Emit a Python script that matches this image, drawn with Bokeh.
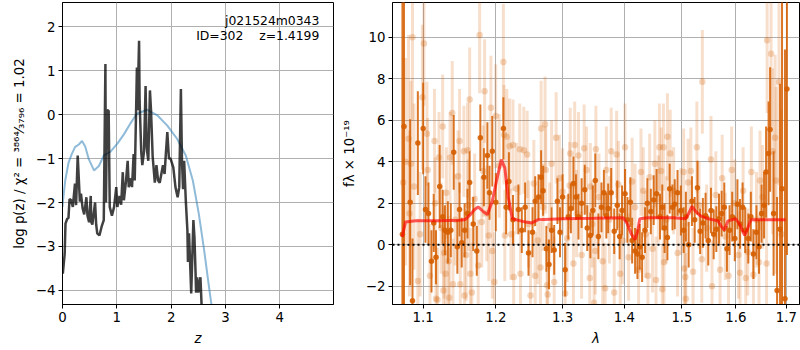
from bokeh.plotting import figure
from bokeh.layouts import row
from bokeh.models import Label, FixedTicker, PrintfTickFormatter, Span
from bokeh.embed import file_html
from bokeh.resources import INLINE

# ---------------- left panel: log p(z) ----------------
z_pz = [0.006, 0.04, 0.055, 0.087, 0.11, 0.13, 0.16, 0.19, 0.23, 0.25, 0.28, 0.32, 0.34, 0.37, 0.40,
        0.44, 0.46, 0.49, 0.52, 0.53, 0.55, 0.60, 0.62, 0.64, 0.68, 0.72, 0.76, 0.79, 0.80, 0.82,
        0.85, 0.87, 0.91, 0.95, 0.99, 1.01, 1.05, 1.08, 1.11, 1.13, 1.17, 1.20, 1.22, 1.26, 1.28,
        1.31, 1.33, 1.36, 1.37, 1.38, 1.41, 1.42, 1.45, 1.47, 1.50, 1.53, 1.55, 1.58, 1.61, 1.63,
        1.66, 1.70, 1.73, 1.76, 1.79, 1.82, 1.85, 1.88, 1.90, 1.93, 1.96, 1.99, 2.04, 2.08, 2.12,
        2.15, 2.18, 2.20, 2.22, 2.24, 2.27, 2.30, 2.31, 2.33, 2.37, 2.41, 2.43, 2.45, 2.46, 2.48,
        2.50, 2.54, 2.56, 2.62]
logp = [-3.62, -3.17, -2.48, -2.37, -2.35, -1.92, -1.95, -2.1, -1.57, -2.06, -0.93, -1.98, -1.8, -2.13, -2.27,
        -1.88, -2.3, -2.45, -1.85, -2.45, -2.5, -2.0, -2.5, -2.7, -2.75, -2.55, -2.4, 1.15, -2.0, 0.1,
        0.09, -2.1, -2.3, -2.1, -1.65, -2.1, -1.85, -2.05, -1.31, -1.95, -1.5, -1.05, -1.65, -1.45, -1.65,
        -0.9, -1.5, 0.4, 1.07, 0.1, 1.68, 0.3, -0.85, -1.15, -0.85, 0.65, -0.75, -1.05, 0.55, 0.1,
        -0.95, -1.55, -1.15, -1.5, -1.55, -1.35, -1.15, -1.35, -0.95, -0.4, -1.0, -1.0, -1.2, -1.65, -1.88,
        -1.65, 0.58, -1.05, -1.7, -1.05, -1.95, -2.64, -3.35, -2.7, -4.07, -2.4, -2.8, -3.6, -4.05, -3.7,
        -4.05, -3.7, -4.3, -5.2]

z_prior = [0.0, 0.01, 0.05, 0.11, 0.17, 0.23, 0.30, 0.36, 0.42, 0.48, 0.58, 0.67, 0.76, 0.88, 1.01,
           1.13, 1.25, 1.37, 1.56, 1.74, 1.93, 2.11, 2.27, 2.40, 2.51, 2.61, 2.69, 2.74, 2.80]
logp_prior = [-2.1, -1.95, -1.5, -1.1, -0.9, -0.74, -0.68, -0.6, -0.73, -1.0, -1.27, -1.17, -0.93, -0.85, -0.66,
              -0.45, -0.2, 0.02, 0.11, -0.01, -0.25, -0.55, -0.93, -1.5, -2.26, -3.1, -3.85, -4.3, -5.0]

z_ticks = [0, 1, 2, 3, 4]
logp_ticks = [-4, -3, -2, -1, 0, 1, 2]

# ---------------- right panel: spectrum ----------------
lam_dark = [1.073, 1.075, 1.083, 1.086, 1.093, 1.100, 1.103, 1.107, 1.111, 1.114, 1.117, 1.122, 1.126, 1.129,
            1.133, 1.137, 1.141, 1.146, 1.149, 1.152, 1.156, 1.160, 1.163, 1.168, 1.173, 1.178, 1.183, 1.188,
            1.191, 1.195, 1.200, 1.211, 1.215, 1.219, 1.225, 1.233, 1.238, 1.243,
            1.248, 1.254, 1.258, 1.263, 1.267, 1.270, 1.275, 1.279, 1.283, 1.287, 1.292, 1.296, 1.300, 1.304,
            1.309, 1.313, 1.317, 1.321, 1.325, 1.330, 1.335, 1.339, 1.344, 1.348, 1.352, 1.357, 1.362, 1.366,
            1.370, 1.373, 1.378, 1.383, 1.388, 1.392, 1.396, 1.401, 1.405, 1.410, 1.413, 1.418, 1.422, 1.426,
            1.430, 1.435, 1.439, 1.445, 1.450, 1.455, 1.461,
            1.465, 1.469, 1.474, 1.478, 1.483, 1.487, 1.492, 1.498, 1.503, 1.507, 1.512, 1.518, 1.523, 1.528,
            1.533, 1.538, 1.543, 1.548, 1.553, 1.558, 1.563, 1.568, 1.573, 1.578, 1.583, 1.588, 1.593, 1.598,
            1.603, 1.608, 1.613, 1.618, 1.624, 1.629, 1.634, 1.640, 1.645, 1.650, 1.655, 1.659, 1.664, 1.667,
            1.674, 1.681, 1.687, 1.691, 1.697, 1.701]
flux_dark = [0.5, 5.7, 2.05, -2.7, 4.9, 5.6, 1.7, 1.5, -0.8, 1.05, -0.6, 2.8, 1.35, 0.7,
             0.6, 0.7, 4.45, -0.1, 1.7, 0.1, 0.7, 1.5, 3.0, 1.0, -0.3, 5.15, 3.25, 4.3,
             2.5, 4.5, 2.05, 5.6, 1.8, 3.05, 1.2, 1.7, 0.7, 1.8,
             -0.4, 0.6, 2.1, 2.3, 3.25, 2.6, -0.2, -0.95, 0.7, -0.25, 2.1, 0.6, 2.3, -1.2,
             1.35, 1.75, 2.95, 2.3, 1.35, 2.0, 2.65, 0.8, 0.45, 1.65, 3.1, 0.4, 1.8, 2.5,
             1.4, 1.75, 2.5, 0.65, 1.9, 0.4, 1.65, 2.45, 1.2, 2.05, 0.2, -0.3, -0.45, -0.1,
             -0.6, 0.7, 2.0, 1.6, 2.15, 2.45, 1.35,
             1.8, 0.8, 0.35, 2.7, 1.8, 1.95, 2.5, 1.65, 0.7, 1.35, 0.0, 2.1, 1.2, 2.75,
             0.65, 1.05, 1.4, 0.2, 1.65, 0.5, 0.75, 1.25, 1.5, 1.8, -0.2, 0.7, 1.35, 0.3,
             1.95, 1.0, 1.8, 0.7, 0.3, 1.35, -0.45, 0.6, -0.1, 1.5, 1.9, 3.5, 4.4, 5.55,
             1.5, -2.2, 0.75, 2.7, -2.6, 7.5]
err_dark = [12.0, 12.0, 4.0, 3.0, 2.5, 2.2, 1.6, 1.5, 1.5, 1.4, 1.3, 2.0, 1.3, 1.2,
            1.5, 1.3, 1.8, 1.3, 1.3, 1.2, 1.3, 1.2, 1.5, 1.3, 1.2, 1.6, 1.4, 1.6,
            1.3, 1.7, 1.4, 1.5, 1.3, 1.4, 1.2, 1.2, 1.1, 1.2,
            1.1, 1.2, 1.2, 1.1, 1.3, 1.2, 1.1, 1.2, 1.1, 1.2, 1.1, 1.2, 1.1, 1.3,
            1.1, 1.2, 1.3, 1.1, 1.1, 1.2, 1.2, 1.1, 1.1, 1.2, 1.3, 1.1, 1.2, 1.1,
            1.1, 1.2, 1.2, 1.1, 1.2, 1.1, 1.2, 1.2, 1.1, 1.2, 1.1, 1.1, 1.2, 1.1,
            1.2, 1.1, 1.2, 1.1, 1.2, 1.2, 1.1,
            1.1, 1.2, 1.1, 1.2, 1.1, 1.2, 1.1, 1.2, 1.1, 1.2, 1.1, 1.2, 1.1, 1.3,
            1.1, 1.2, 1.1, 1.2, 1.1, 1.2, 1.1, 1.2, 1.1, 1.2, 1.1, 1.2, 1.2, 1.1,
            1.2, 1.2, 1.2, 1.1, 1.2, 1.2, 1.2, 1.3, 1.3, 1.4, 1.6, 2.2, 2.5, 3.0,
            3.0, 4.5, 7.0, 12.0, 12.0, 8.0]

lam_light = [1.074, 1.077, 1.081, 1.082, 1.084, 1.086, 1.093, 1.099, 1.101, 1.105, 1.106, 1.115, 1.116, 1.117,
             1.119, 1.121, 1.126, 1.128, 1.127, 1.130, 1.134, 1.135, 1.136, 1.139, 1.140, 1.149, 1.150, 1.155,
             1.156, 1.160, 1.161, 1.163, 1.164, 1.166, 1.177, 1.180, 1.182, 1.184, 1.190, 1.193, 1.195, 1.200,
             1.211, 1.212, 1.213, 1.216, 1.220, 1.225, 1.226, 1.235, 1.236, 1.241,
             1.246, 1.251, 1.256, 1.258, 1.266, 1.267, 1.273, 1.274, 1.276, 1.277, 1.283, 1.287, 1.290, 1.300,
             1.304, 1.311, 1.312, 1.317, 1.319, 1.325, 1.334, 1.343, 1.344, 1.350, 1.352, 1.353, 1.368, 1.370,
             1.378, 1.383, 1.387, 1.393, 1.401, 1.413, 1.424, 1.432, 1.440, 1.443, 1.452, 1.454, 1.460,
             1.463, 1.465, 1.467, 1.468, 1.474, 1.479, 1.503, 1.504, 1.506, 1.507, 1.516, 1.520, 1.527, 1.536,
             1.537, 1.553, 1.555, 1.570, 1.574, 1.586, 1.592, 1.608, 1.619, 1.623, 1.630, 1.634, 1.645, 1.647,
             1.660, 1.661, 1.669, 1.677, 1.679, 1.685,
             1.088, 1.096, 1.109, 1.124, 1.131, 1.143, 1.147, 1.158, 1.170, 1.175, 1.187, 1.198, 1.205, 1.222,
             1.230, 1.248, 1.262, 1.270, 1.280, 1.295, 1.307, 1.322, 1.330, 1.338, 1.347, 1.358, 1.364, 1.375,
             1.390, 1.397, 1.407, 1.418, 1.428, 1.436, 1.448, 1.458, 1.472, 1.485, 1.492, 1.498, 1.511, 1.531,
             1.545, 1.562, 1.580, 1.598, 1.605, 1.614, 1.640, 1.652, 1.672, 1.690]
flux_light = [3.0, 4.0, 5.1, 1.5, 3.9, 10.0, -1.75, 7.1, 9.7, 5.35, 3.6, 5.0, 2.0, -2.6,
              -2.65, 4.2, 5.7, -0.4, -2.2, -1.4, -0.8, -2.55, 4.2, 6.35, -1.9, 5.0, -1.9, 4.5,
              -2.45, 4.55, 1.9, 7.0, -1.4, -2.3, 10.1, 1.1, 3.55, 7.4, 0.45, 6.6, -0.3, 6.2,
              8.8, 5.3, 0.45, 5.2, 4.75, 4.8, -1.55, 4.6, -1.4, 4.55,
              4.35, -2.45, 2.95, -1.5, -1.1, 5.6, 5.8, 3.6, -1.95, -2.4, 3.9, -1.8, 5.15, 2.55,
              -2.35, 2.85, 4.4, -0.9, 4.8, 4.3, 4.65, -1.6, 2.8, -2.8, -0.3, 4.6, -2.1, 3.6,
              4.5, -2.3, 4.35, -1.4, 4.7, 3.05, -1.2, 2.6, -1.5, 3.25, 3.9, -1.7, 4.7,
              3.55, -2.15, 4.7, -0.85, 5.2, 4.4, 3.5, -1.15, -1.55, -2.6, 3.55, -1.3, 4.7, -0.7,
              7.85, 4.1, -2.0, -1.2, 3.2, -1.5, 3.6, -1.35, -1.6, -0.35, 3.5, -1.45, -0.85, 3.1,
              -0.9, 9.85, 9.2, 5.15, 3.1, 7.85,
              2.8, 0.5, -1.5, 0.8, 2.5, 1.2, 3.3, -0.5, 2.2, -1.0, 1.5, -1.8, 3.8, 0.5,
              2.7, 1.0, 0.2, 1.8, 0.9, 3.2, 0.3, 1.5, -0.5, 3.6, 1.0, 2.3, -0.8, 1.2,
              2.9, 0.2, -0.6, 1.8, 3.5, 0.5, -0.2, 2.2, 1.2, 2.6, -0.4, 1.6, 3.0, 1.9,
              0.8, 2.4, 0.4, 2.0, -0.5, 2.6, 1.2, 2.3, 4.5, 0.5]
err_light = [6.0, 5.0, 5.0, 4.0, 4.0, 4.0, 3.0, 3.5, 3.0, 2.5, 2.5, 2.5, 2.2, 2.5,
             2.5, 2.2, 2.5, 2.2, 2.3, 2.2, 2.2, 2.4, 2.2, 2.5, 2.2, 2.5, 2.3, 2.2,
             2.4, 2.3, 2.2, 2.5, 2.2, 2.4, 2.8, 2.2, 2.2, 2.5, 2.2, 2.5, 2.3, 2.5,
             2.8, 2.4, 2.2, 2.3, 2.3, 2.2, 2.2, 2.2, 2.2, 2.1,
             2.1, 2.2, 2.1, 2.1, 2.2, 2.3, 2.3, 2.1, 2.2, 2.1, 2.1, 2.2, 2.2, 2.1,
             2.2, 2.1, 2.2, 2.1, 2.1, 2.1, 2.1, 2.2, 2.1, 2.2, 2.1, 2.1, 2.2, 2.1,
             2.1, 2.2, 2.1, 2.1, 2.1, 2.1, 2.1, 2.1, 2.1, 2.1, 2.1, 2.1, 2.1,
             2.1, 2.2, 2.1, 2.1, 2.1, 2.1, 2.1, 2.2, 2.1, 2.2, 2.1, 2.1, 2.2, 2.1,
             2.5, 2.1, 2.2, 2.1, 2.1, 2.2, 2.1, 2.2, 2.2, 2.1, 2.2, 2.2, 2.3, 2.4,
             2.8, 3.5, 3.5, 4.0, 4.5, 5.0,
             4.0, 3.0, 2.5, 2.2, 2.2, 2.2, 2.2, 2.2, 2.2, 2.2, 2.3, 2.4, 2.5, 2.2,
             2.2, 2.1, 2.1, 2.1, 2.1, 2.1, 2.1, 2.1, 2.1, 2.1, 2.1, 2.1, 2.1, 2.1,
             2.1, 2.1, 2.1, 2.1, 2.1, 2.1, 2.1, 2.1, 2.1, 2.1, 2.1, 2.1, 2.1, 2.1,
             2.1, 2.1, 2.1, 2.1, 2.1, 2.1, 2.3, 2.5, 4.0, 6.0]

lam_model = [1.0727, 1.077, 1.09, 1.12, 1.15, 1.157, 1.164, 1.170, 1.175, 1.182, 1.188, 1.195, 1.2012,
             1.208, 1.213, 1.218, 1.224, 1.2435, 1.253, 1.262, 1.30, 1.35, 1.398, 1.405, 1.412, 1.418,
             1.422, 1.426, 1.44, 1.4845, 1.506, 1.512, 1.518, 1.525, 1.533, 1.548, 1.566, 1.572, 1.578,
             1.585, 1.600, 1.608, 1.617, 1.623, 1.629, 1.66, 1.6985]
flux_model = [0.37, 1.1, 1.15, 1.15, 1.18, 1.22, 1.45, 1.7, 1.82, 1.6, 1.45, 2.1, 3.1,
              4.1, 3.7, 2.3, 1.25, 1.09, 1.05, 1.2, 1.25, 1.27, 1.3, 1.0, 0.5, 0.25,
              0.6, 1.25, 1.3, 1.3, 1.25, 1.5, 1.85, 1.6, 1.4, 1.25, 1.15, 0.9, 0.7,
              1.15, 1.25, 0.95, 0.45, 0.8, 1.2, 1.2, 1.2]

lam_ticks = [1.1, 1.2, 1.3, 1.4, 1.5, 1.6, 1.7]
flux_ticks = [-2, 0, 2, 4, 6, 8, 10]

FONT = "DejaVu Sans"
GRID = "#b0b0b0"
ORANGE = "#d55e00"


def style(p):
    p.outline_line_color = "black"
    p.outline_line_width = 1
    p.outline_line_alpha = 1
    for ax in [p.xaxis[0], p.yaxis[0]]:
        ax.major_label_text_font = FONT
        ax.major_label_text_font_size = "10pt"
        ax.major_label_text_color = "black"
        ax.axis_label_text_font = FONT
        ax.axis_label_text_font_size = "10pt"
        ax.axis_label_text_font_style = "normal"
        ax.axis_label_text_color = "black"
        ax.major_tick_out = 4
        ax.major_tick_in = 0
        ax.minor_tick_out = 0
        ax.minor_tick_in = 0
        ax.major_label_standoff = 3
        ax.axis_label_standoff = 6
        ax.axis_line_color = "black"
    p.xgrid.grid_line_color = GRID
    p.ygrid.grid_line_color = GRID
    p.xgrid.grid_line_width = 1
    p.ygrid.grid_line_width = 1


# ---------------- left figure ----------------
p1 = figure(width=337, height=350, x_range=(0, 4.99), y_range=(-4.32, 2.55),
            output_backend="svg", toolbar_location=None,
            min_border_left=62, min_border_right=4, min_border_top=2, min_border_bottom=46)
p1.background_fill_color = "white"
p1.border_fill_color = "white"
style(p1)
p1.xaxis.ticker = FixedTicker(ticks=z_ticks)
p1.yaxis.ticker = FixedTicker(ticks=logp_ticks)
p1.xaxis.axis_label = "z"
p1.xaxis.axis_label_text_font_style = "italic"
p1.yaxis.axis_label = "log p(z) / χ² = ³⁸⁶⁴⁄₃₇₉₆ = 1.02"

p1.line(z_prior, logp_prior, line_color="#1f77b4", line_alpha=0.5, line_width=2)
p1.line(z_pz, logp, line_color="black", line_alpha=0.75, line_width=2.5)

p1.add_layout(Label(x=4.73, y=2.14, text="j021524m0343", text_align="right", text_baseline="middle",
                    text_font=FONT, text_font_size="9.3pt", text_color="black"))
p1.add_layout(Label(x=4.73, y=1.81, text="ID=302\u00a0\u00a0\u00a0\u00a0z=1.4199", text_align="right",
                    text_baseline="middle", text_font=FONT, text_font_size="9.3pt", text_color="black"))

# ---------------- right figure ----------------
p2 = figure(width=463, height=350, x_range=(1.0603, 1.7268), y_range=(-2.88, 11.67),
            x_axis_type="log", output_backend="svg", toolbar_location=None,
            min_border_left=55, min_border_right=1, min_border_top=2, min_border_bottom=46)
p2.background_fill_color = "white"
p2.border_fill_color = "white"
style(p2)
p2.xaxis.ticker = FixedTicker(ticks=lam_ticks)
p2.xaxis.formatter = PrintfTickFormatter(format="%.1f")
p2.yaxis.ticker = FixedTicker(ticks=flux_ticks)
p2.xaxis.axis_label = "λ"
p2.xaxis.axis_label_text_font_style = "italic"
p2.yaxis.axis_label = "fλ × 10⁻¹⁹"

lo_l = [f - e for f, e in zip(flux_light, err_light)]
hi_l = [f + e for f, e in zip(flux_light, err_light)]
lo_d = [f - e for f, e in zip(flux_dark, err_dark)]
hi_d = [f + e for f, e in zip(flux_dark, err_dark)]

p2.segment(x0=lam_light, y0=lo_l, x1=lam_light, y1=hi_l, line_color=ORANGE, line_alpha=0.2, line_width=3)
p2.scatter(lam_light, flux_light, size=6.5, fill_color=ORANGE, fill_alpha=0.25, line_color=None)
p2.segment(x0=lam_dark, y0=lo_d, x1=lam_dark, y1=hi_d, line_color=ORANGE, line_alpha=0.85, line_width=2)
p2.scatter(lam_dark, flux_dark, size=5.5, fill_color=ORANGE, fill_alpha=0.9, line_color=None)

p2.line(lam_model, flux_model, line_color="red", line_alpha=0.65, line_width=3)
p2.add_layout(Span(location=0, dimension="width", line_color="black", line_dash="2 3", line_width=2))

p2.add_layout(Label(x=396, y=-36, x_units="screen", y_units="screen", text="Fri Apr 24 04:24:53 2020",
                    text_align="right", text_baseline="middle", text_font=FONT, text_font_size="5pt",
                    text_color="black"))

layout = row(p1, p2)
open("out.html", "w").write(file_html(layout, INLINE))
